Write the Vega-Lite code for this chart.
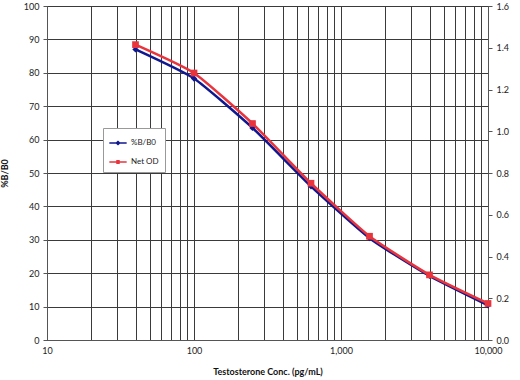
{
  "$schema": "https://vega.github.io/schema/vega-lite/v6.json",
  "autosize": {"type": "none"},
  "width": 441,
  "height": 334,
  "padding": {"left": 47, "top": 6, "right": 32, "bottom": 40},
  "background": "white",
  "config": {
    "font": "Lato",
    "view": {"fill": "#FFFFCC", "stroke": "#333333", "strokeWidth": 1},
    "axis": {"labelFont": "Lato", "labelFontSize": 9, "labelColor": "#222", "titleFont": "Lato", "titleFontSize": 9, "titleColor": "#111", "titleFontWeight": "bold", "domainColor": "#555", "tickColor": "#555", "gridColor": "#3a3a3a", "gridOpacity": 1, "gridWidth": 1, "labelFlush": false}
  },
  "datasets": {
    "curve": [
      {"conc": 40, "bb0": 87.0, "od": 1.415},
      {"conc": 100, "bb0": 78.3, "od": 1.279},
      {"conc": 250, "bb0": 63.5, "od": 1.037},
      {"conc": 625, "bb0": 46.0, "od": 0.751},
      {"conc": 1563, "bb0": 30.5, "od": 0.497},
      {"conc": 4000, "bb0": 19.2, "od": 0.312},
      {"conc": 10000, "bb0": 10.4, "od": 0.175}
    ],
    "legend": [
      {"series": "%B/B0"},
      {"series": "Net OD"}
    ]
  },
  "layer": [
    {
      "data": {"name": "curve"},
      "encoding": {
        "x": {"field": "conc", "type": "quantitative",
          "scale": {"type": "log", "domain": [10, 10000], "nice": false},
          "axis": {"title": "Testosterone Conc. (pg/mL)", "titlePadding": 12,
            "values": [10, 20, 30, 40, 50, 60, 70, 80, 90, 100, 200, 300, 400, 500, 600, 700, 800, 900, 1000, 2000, 3000, 4000, 5000, 6000, 7000, 8000, 9000, 10000],
            "labelExpr": "datum.value == 10 || datum.value == 100 || datum.value == 1000 || datum.value == 10000 ? format(datum.value, ',') : ''",
            "ticks": false, "labelPadding": 6, "grid": true, "labelFlush": false}},
        "y": {"field": "bb0", "type": "quantitative",
          "scale": {"domain": [0, 100], "nice": false},
          "axis": {"title": "%B/B0", "values": [0, 10, 20, 30, 40, 50, 60, 70, 80, 90, 100], "grid": true, "tickSize": 4, "labelPadding": 4, "titlePadding": 14, "orient": "left", "labelFlush": false}}
      },
      "layer": [
        {"mark": {"type": "line", "interpolate": "cardinal", "tension": 0.5, "strokeWidth": 2.5, "color": "#101890"}},
        {"mark": {"type": "point", "shape": "diamond", "filled": true, "size": 40, "opacity": 1, "color": "#101890"}}
      ]
    },
    {
      "data": {"name": "curve"},
      "encoding": {
        "x": {"field": "conc", "type": "quantitative", "scale": {"type": "log", "domain": [10, 10000], "nice": false}},
        "y": {"field": "od", "type": "quantitative",
          "scale": {"domain": [0, 1.6], "nice": false},
          "axis": {"title": null, "orient": "right", "values": [0, 0.2, 0.4, 0.6, 0.8, 1.0, 1.2, 1.4, 1.6], "format": ".1f", "grid": false, "tickSize": 4, "labelPadding": 4, "labelFlush": false}}
      },
      "layer": [
        {"mark": {"type": "line", "interpolate": "cardinal", "tension": 0.5, "strokeWidth": 2.5, "color": "#E8343C"}},
        {"mark": {"type": "point", "shape": "square", "filled": true, "size": 45, "opacity": 1, "color": "#E8343C"}}
      ]
    },
    {
      "data": {"name": "legend"},
      "mark": {"type": "point", "filled": true, "opacity": 0},
      "encoding": {
        "color": {"field": "series", "type": "nominal",
          "scale": {"domain": ["%B/B0", "Net OD"], "range": ["#101890", "#E8343C"]},
          "legend": {"title": null, "orient": "none", "legendX": 56, "legendY": 122, "fillColor": "white", "strokeColor": "#999", "padding": 6, "symbolSize": 300, "labelFont": "Lato", "labelFontSize": 8, "labelColor": "#222", "rowPadding": 6, "symbolStrokeWidth": 0,
            "encode": {"symbols": {"update": {"opacity": {"value": 1}, "fillOpacity": {"value": 1}}}}}},
        "shape": {"field": "series", "type": "nominal",
          "scale": {"domain": ["%B/B0", "Net OD"], "range": [
            "M-1,-0.09L-0.22,-0.09L0,-0.28L0.22,-0.09L1,-0.09L1,0.09L0.22,0.09L0,0.28L-0.22,0.09L-1,0.09Z",
            "M-1,-0.09L-0.2,-0.09L-0.2,-0.22L0.2,-0.22L0.2,-0.09L1,-0.09L1,0.09L0.2,0.09L0.2,0.22L-0.2,0.22L-0.2,0.09L-1,0.09Z"]},
          "legend": {"title": null}}
      }
    }
  ],
  "resolve": {"scale": {"y": "independent"}}
}
